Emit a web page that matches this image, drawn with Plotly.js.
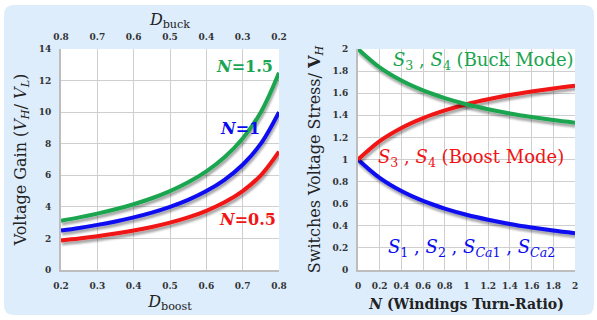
<!DOCTYPE html>
<html>
<head>
<meta charset="utf-8">
<script src="https://cdn.plot.ly/plotly-3.0.1.min.js"></script>
<style>
html,body{margin:0;padding:0;background:#fff;}
#chart{width:597px;height:320px;}
.scatterlayer .trace path.js-line{filter:url(#shadow);}
</style>
</head>
<body>
<svg width="0" height="0" style="position:absolute">
  <defs>
    <filter id="shadow" x="-20%" y="-20%" width="140%" height="140%">
      <feGaussianBlur in="SourceAlpha" stdDeviation="1"/>
      <feOffset dx="1" dy="2.5" result="off"/>
      <feComponentTransfer><feFuncA type="linear" slope="0.35"/></feComponentTransfer>
      <feMerge><feMergeNode/><feMergeNode in="SourceGraphic"/></feMerge>
    </filter>
  </defs>
</svg>
<div id="chart"></div>
<script>
// Left chart: voltage gain vs D_boost
var dBoost = [0.2,0.25,0.3,0.35,0.4,0.45,0.5,0.55,0.6,0.65,0.7,0.75,0.8];
var gainN05 = [1.875,2.0,2.143,2.308,2.5,2.727,3.0,3.333,3.75,4.286,5.0,6.0,7.5];
var gainN1  = [2.5,2.667,2.857,3.077,3.333,3.636,4.0,4.444,5.0,5.714,6.667,8.0,10.0];
var gainN15 = [3.125,3.333,3.571,3.846,4.167,4.545,5.0,5.556,6.25,7.143,8.333,10.0,12.5];
var dBuckTicks = [0.8,0.7,0.6,0.5,0.4,0.3,0.2];

// Right chart: switch voltage stress vs N
var nRatio = [0,0.2,0.4,0.6,0.8,1,1.2,1.4,1.6,1.8,2];
var stressBuck  = [2,1.833,1.714,1.625,1.556,1.5,1.455,1.417,1.385,1.357,1.333];
var stressBoost = [1,1.167,1.286,1.375,1.444,1.5,1.545,1.583,1.615,1.643,1.667];
var stressS12   = [1,0.833,0.714,0.625,0.556,0.5,0.455,0.417,0.385,0.357,0.333];

var GREEN = '#1aa550', BLUE = '#0a0af0', RED = '#f01414';
var SERIF = '"DejaVu Serif", serif';

function line(x, y, color, xa, ya){
  return {x:x, y:y, type:'scatter', mode:'lines', xaxis:xa, yaxis:ya,
    line:{color:color, width:4, shape:'spline'}, hoverinfo:'skip', showlegend:false};
}

var traces = [
  line(dBoost, gainN05, RED, 'x', 'y'),
  line(dBoost, gainN1, BLUE, 'x', 'y'),
  line(dBoost, gainN15, GREEN, 'x', 'y'),
  {x:dBuckTicks, y:dBuckTicks.map(function(){return null;}), xaxis:'x3', yaxis:'y', type:'scatter', mode:'lines', showlegend:false, hoverinfo:'skip'},
  line(nRatio, stressS12, BLUE, 'x2', 'y2'),
  line(nRatio, stressBoost, RED, 'x2', 'y2'),
  line(nRatio, stressBuck, GREEN, 'x2', 'y2')
];

var tickFont = {family:SERIF, size:9, color:'#333', weight:'bold'};
var gridC = '#cfcfcf', axC = '#bdbdbd';
var xL = [61/597, 279/597], xR = [358/597, 575/597], yD = [50/320, 271/320];

function ax(extra){
  var a = {showgrid:true, gridcolor:gridC, gridwidth:1, zeroline:false,
    showline:true, linecolor:axC, linewidth:2, ticks:'', tickfont:tickFont,
    ticklabelstandoff:6, fixedrange:true};
  for (var k in extra) a[k] = extra[k];
  return a;
}

var layout = {
  width:597, height:320,
  margin:{l:0,r:0,t:0,b:0},
  paper_bgcolor:'rgba(0,0,0,0)', plot_bgcolor:'rgba(0,0,0,0)',
  showlegend:false,
  xaxis: ax({domain:xL, anchor:'y', range:[0.2,0.8], dtick:0.1, tickformat:'.1f',
    title:{text:'<i>D</i><sub>boost</sub>', font:{family:SERIF, size:16, color:'#222'}, standoff:6}}),
  yaxis: ax({domain:yD, anchor:'x', range:[0,14], dtick:2,
    title:{text:'Voltage Gain (<i>V<sub>H</sub></i>/ <i>V<sub>L</sub></i>)', font:{family:SERIF, size:16, color:'#222'}, standoff:8}}),
  xaxis3: ax({overlaying:'x', side:'top', anchor:'y', range:[0.8,0.2], tickvals:dBuckTicks, tickformat:'.1f', showgrid:false, showline:false,
    title:{text:'<i>D</i><sub>buck</sub>', font:{family:SERIF, size:16, color:'#222'}, standoff:2}}),
  xaxis2: ax({domain:xR, anchor:'y2', range:[0,2], dtick:0.2,
    title:{text:'<b><i>N</i> (Windings Turn-Ratio)</b>', font:{family:SERIF, size:14, color:'#222'}, standoff:9}}),
  yaxis2: ax({domain:yD, anchor:'x2', range:[0,2], dtick:0.2,
    title:{text:'Switches Voltage Stress/ <b>V</b><sub><i>H</i></sub>', font:{family:SERIF, size:16, color:'#222'}, standoff:8}}),
  shapes:[
    {type:'path', xref:'paper', yref:'paper', layer:'below', line:{width:0}, fillcolor:'#ddedfc',
     path:'M '+(14/597)+' '+(315/320)+' L '+(584/597)+' '+(315/320)+' Q '+(594/597)+' '+(315/320)+' '+(594/597)+' '+(305/320)+
          ' L '+(594/597)+' '+(15/320)+' Q '+(594/597)+' '+(5/320)+' '+(584/597)+' '+(5/320)+
          ' L '+(14/597)+' '+(5/320)+' Q '+(4/597)+' '+(5/320)+' '+(4/597)+' '+(15/320)+
          ' L '+(4/597)+' '+(305/320)+' Q '+(4/597)+' '+(315/320)+' '+(14/597)+' '+(315/320)+' Z'},
    {type:'rect', xref:'paper', yref:'paper', layer:'below', line:{width:0}, fillcolor:'#ffffff',
     x0:xL[0], x1:xL[1], y0:yD[0], y1:yD[1]},
    {type:'rect', xref:'paper', yref:'paper', layer:'below', line:{width:0}, fillcolor:'#ffffff',
     x0:xR[0], x1:xR[1], y0:yD[0], y1:yD[1]}
  ],
  annotations:[
    {xref:'x', yref:'y', x:0.704, y:12.92, text:'<b><i>N</i>=1.5</b>', showarrow:false, font:{family:SERIF, size:16, color:GREEN}},
    {xref:'x', yref:'y', x:0.693, y:8.99, text:'<b><i>N</i>=1</b>', showarrow:false, font:{family:SERIF, size:16, color:BLUE}},
    {xref:'x', yref:'y', x:0.712, y:3.23, text:'<b><i>N</i>=0.5</b>', showarrow:false, font:{family:SERIF, size:16, color:RED}},
    {xref:'x2', yref:'y2', x:1.157, y:1.89, text:'<i>S</i><sub>3</sub> , <i>S</i><sub>4</sub> (Buck Mode)', showarrow:false, font:{family:SERIF, size:18, color:GREEN}},
    {xref:'x2', yref:'y2', x:1.04, y:1.018, text:'<i>S</i><sub>3</sub> , <i>S</i><sub>4</sub> (Boost Mode)', showarrow:false, font:{family:SERIF, size:18, color:RED}},
    {xref:'x2', yref:'y2', x:1.05, y:0.2, text:'<i>S</i><sub>1</sub> , <i>S</i><sub>2</sub> , <i>S</i><sub><i>Ca</i>1</sub> , <i>S</i><sub><i>Ca</i>2</sub>', showarrow:false, font:{family:SERIF, size:18, color:BLUE}}
  ]
};

Plotly.newPlot('chart', traces, layout, {displayModeBar:false, staticPlot:true});
</script>
</body>
</html>
